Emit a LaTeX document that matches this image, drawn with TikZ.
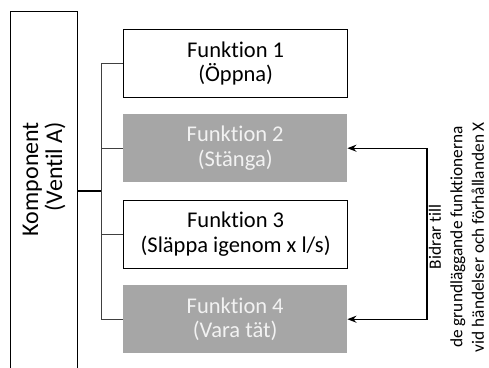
\documentclass[tikz,border=0pt]{standalone}
\usepackage{fontspec}
\setmainfont{Carlito}[Ligatures=NoCommon]
\usetikzlibrary{arrows.meta}
\definecolor{boxgray}{HTML}{A6A6A6}
\definecolor{lighttext}{HTML}{F2F2F2}
\definecolor{treeline}{HTML}{404040}
\tikzset{
  funcbox/.style={rectangle, minimum width=224pt, minimum height=68pt, inner sep=0pt, align=center,
    font=\fontsize{22.5}{24.5}\selectfont, anchor=north west},
  whitebox/.style={funcbox, draw=black, line width=1.3pt, fill=white, text=black},
  graybox/.style={funcbox, fill=boxgray, text=lighttext},
  tree/.style={draw=treeline, line width=1pt},
  bracket/.style={draw=black, line width=1.4pt, {Stealth[length=9pt,width=7pt]}-{Stealth[length=9pt,width=7pt]}}
}
\begin{document}
\begin{tikzpicture}[x=1pt,y=-1pt]
\useasboundingbox (0,0) rectangle (489,367);
\fill[white] (0,0) rectangle (489,367);
\begin{scope}
\clip (0,0) rectangle (489,367);
\node[draw=black, line width=1.3pt, rectangle, minimum width=67pt, minimum height=380pt, inner sep=0pt, anchor=north west] (comp) at (10,11) {};
\end{scope}
\node[rotate=90, align=right, inner sep=0pt, font=\fontsize{24}{24}\selectfont] (comptext) at (44,179) {Komponent\\(Ventil A)};

\node[whitebox] (f1) at (123,29) {Funktion 1\\(Öppna)};
\node[graybox] (f2) at (123,114) {Funktion 2\\(Stänga)};
\node[whitebox] (f3) at (123,199.5) {Funktion 3\\(Släppa igenom x l/s)};
\node[graybox] (f4) at (123,285) {Funktion 4\\(Vara tät)};

\coordinate (j) at (101,191);
\draw[tree] (f1.west) -| (j);
\draw[tree] (f4.west) -| (j);
\draw[tree] (f2.west) -- (f2.west -| j);
\draw[tree] (f3.west) -- (f3.west -| j);
\draw[black, line width=1.8pt] (comp.east |- j) -- (j);

\coordinate (br) at (427,148);
\draw[bracket] (f2.east) -- (f2.east -| br) |- (f4.east);

\node[rotate=90, align=center, inner sep=0pt, font=\fontsize{17.3}{21.5}\selectfont] (note) at (456.5,237)
  {Bidrar till\\de grundläggande funktionerna\\vid händelser och förhållanden X};
\end{tikzpicture}
\end{document}
